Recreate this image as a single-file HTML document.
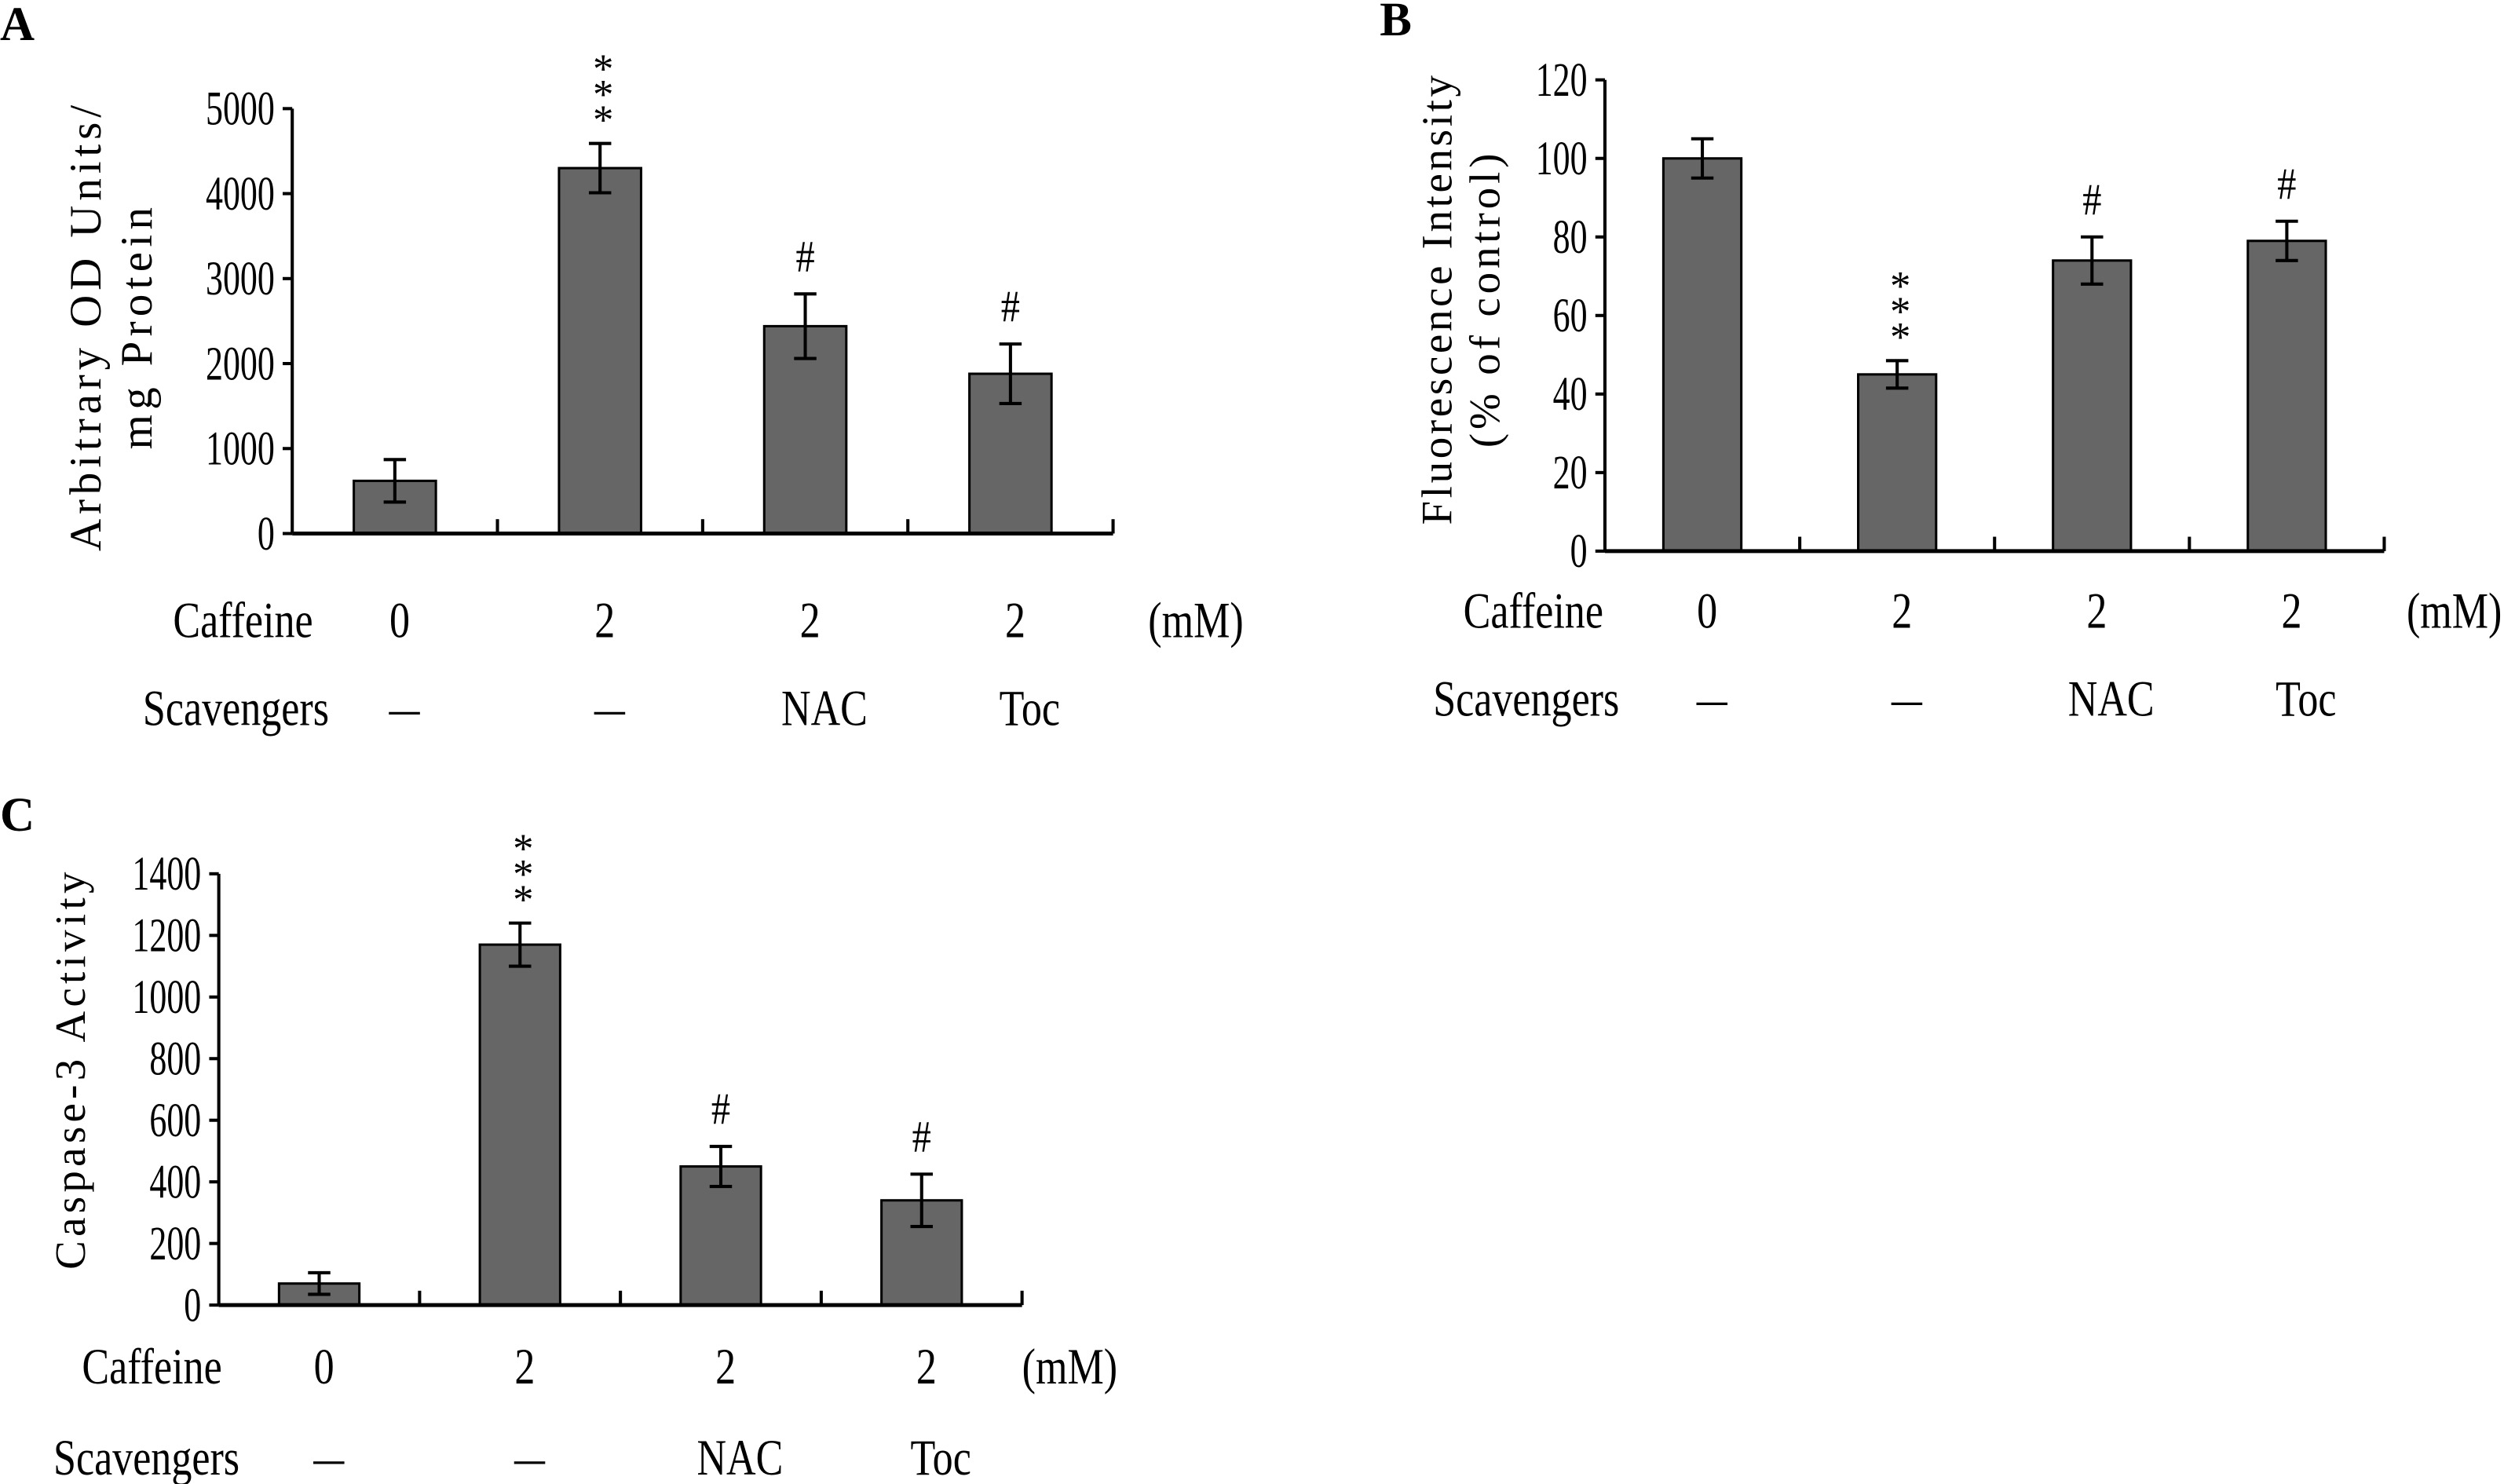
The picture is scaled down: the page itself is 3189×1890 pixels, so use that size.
<!DOCTYPE html>
<html><head><meta charset="utf-8"><style>
html,body{margin:0;padding:0;background:#fff}
svg{display:block}
text{font-family:"Liberation Serif",serif;fill:#000}
</style></head><body>
<svg id="fig" width="3189" height="1890" viewBox="0 0 1568 929" preserveAspectRatio="none" xmlns="http://www.w3.org/2000/svg"></svg>
<script>
// Panel A data
const catsCaffeine = ["0","2","2","2"];
const catsScav = ["\u2014","\u2014","NAC","Toc"];
const valsA = [620, 4300, 2440, 1880];
const errA = [250, 290, 380, 350];
const marksA = ["", "***", "#", "#"];
const ticksA = [0,1000,2000,3000,4000,5000];
// Panel B data
const valsB = [100, 45, 74, 79];
const errB = [5, 3.5, 6, 5];
const marksB = ["", "***", "#", "#"];
const ticksB = [0,20,40,60,80,100,120];
// Panel C data
const valsC = [70, 1170, 450, 340];
const errC = [35, 70, 65, 85];
const marksC = ["", "***", "#", "#"];
const ticksC = [0,200,400,600,800,1000,1200,1400];

const svg = document.getElementById('fig');
const NS = 'http://www.w3.org/2000/svg';
function el(tag, attrs){const e=document.createElementNS(NS,tag);for(const k in attrs)e.setAttribute(k,attrs[k]);svg.appendChild(e);return e;}
function txt(x,y,s,size,anchor,sx,name,extra){
  const t=el('text',{transform:`translate(${x},${y}) scale(${sx},1)`,'font-size':size,'text-anchor':anchor});
  t.textContent=s;
  
  
  if(extra)for(const k in extra)t.setAttribute(k,extra[k]);
  return t;
}
function panel(cfg){
  const {id,x0,x1,yTop,y0,max,vals,errs,marks,ticks,letter,lx,ly,ylabels,rowY1,rowY2,capX,scavX,mmX}=cfg;
  const ys=v=>y0-(v/max)*(y0-yTop);
  const n=vals.length, w=(x1-x0)/n, bw=w*0.4;
  const xc=i=>x0+w*(i+0.5);
  txt(lx,ly,letter,30,'start',1,`panel-${id}-label`,{'font-weight':'bold'});
  let a=el('line',{x1:x0,y1:yTop,x2:x0,y2:y0,stroke:'#000','stroke-width':2});
  
  
  ticks.forEach(t=>{
    const y=ys(t);
    const l=el('line',{x1:x0-6,y1:y,x2:x0,y2:y,stroke:'#000','stroke-width':2});
    
    
    txt(x0-11,y+10,String(t),30,'end',0.72,`panel-${id}-y-tick-label`);
  });
  for(let i=1;i<=n;i++){
    const l=el('line',{x1:x0+w*i,y1:y0,x2:x0+w*i,y2:y0-9,stroke:'#000','stroke-width':2});
    
    
  }
  vals.forEach((v,i)=>{
    const r=el('rect',{x:xc(i)-bw/2,y:ys(v),width:bw,height:y0-ys(v),fill:'#666',stroke:'#000','stroke-width':1.5});
    
    
    const top=ys(v+errs[i]), bot=ys(v-errs[i]);
    const e=el('path',{d:`M${xc(i)},${top}V${bot}M${xc(i)-7},${top}H${xc(i)+7}M${xc(i)-7},${bot}H${xc(i)+7}`,stroke:'#000','stroke-width':2,fill:'none'});
    
    
    if(marks[i]==='#') txt(xc(i),top-14,'#',28,'middle',0.85,`panel-${id}-significance-${i}`);
    else if(marks[i]==='***'){ for(let k=0;k<3;k++) txt(xc(i)+2,top-6-k*16,'*',26,'middle',1,`panel-${id}-significance-${i}`); }
    txt(xc(i)+3,rowY1+11,catsCaffeine[i],32,'middle',0.8,`panel-${id}-caffeine-${i}`);
    txt(xc(i)+ (i>=2?12:6),rowY2+11,catsScav[i],32,'middle',i>=2?0.8:0.6,`panel-${id}-scavenger-${i}`);
  });
  let b=el('line',{x1:x0,y1:y0,x2:x1,y2:y0,stroke:'#000','stroke-width':2.5});
  
  
  txt(capX,rowY1+11,'Caffeine',32,'end',0.8,`panel-${id}-caffeine-label`);
  txt(scavX,rowY2+11,'Scavengers',32,'end',0.8,`panel-${id}-scavengers-label`);
  txt(mmX,rowY1+11,'(mM)',32,'start',0.8,`panel-${id}-unit-label`);
  ylabels.forEach(([x,y,s,ls,fs])=>{
    const t=el('text',{transform:`translate(${x},${y}) rotate(-90)`,'font-size':fs,'text-anchor':'middle','letter-spacing':ls});
    t.textContent=s;
    
    
  });
}
panel({id:'a',x0:183,x1:697,yTop:68,y0:334,max:5000,vals:valsA,errs:errA,marks:marksA,ticks:ticksA,letter:'A',lx:0,ly:25,
  ylabels:[[63,204,'Arbitrary OD Units/',2.9,28],[95,204,'mg Protein',3.1,28]],rowY1:388,rowY2:443,capX:196,scavX:206,mmX:719});
panel({id:'b',x0:1005,x1:1493,yTop:50,y0:345,max:120,vals:valsB,errs:errB,marks:marksB,ticks:ticksB,letter:'B',lx:864,ly:22,
  ylabels:[[909,187,'Fluorescence Intensity',1.8,27],[939,187,'(% of control)',2.4,27]],rowY1:382,rowY2:437,capX:1004,scavX:1014,mmX:1507});
panel({id:'c',x0:137,x1:640,yTop:547,y0:817,max:1400,vals:valsC,errs:errC,marks:marksC,ticks:ticksC,letter:'C',lx:0,ly:520,
  ylabels:[[53,669,'Caspase-3 Activity',2.6,27]],rowY1:855,rowY2:912,capX:139,scavX:150,mmX:640});
</script>
</body></html>
